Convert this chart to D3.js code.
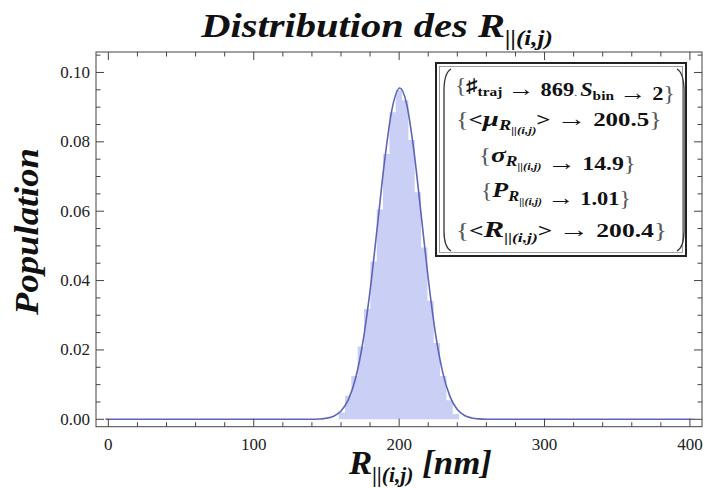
<!DOCTYPE html>
<html><head><meta charset="utf-8">
<script src="https://cdn.jsdelivr.net/npm/d3@7"></script>
<style>html,body{margin:0;padding:0;background:#fff;} svg{display:block;}</style>
</head><body>
<svg id="c" width="704" height="488"></svg>
<script>
// ---- data ----
const binEdges = [158.4, 162.76, 167.12, 171.48, 175.84, 180.2, 184.56, 188.92, 193.28, 197.64, 202.0,
                  206.36, 210.72, 215.08, 219.44, 223.8, 228.16, 232.52, 236.88, 241.24];
const binHeight = [0.0020, 0.0068, 0.0125, 0.0210, 0.0318, 0.0455, 0.0605, 0.0765, 0.0885, 0.0950,
                   0.0920, 0.0805, 0.0655, 0.0495, 0.0342, 0.0220, 0.0125, 0.0055, 0.0015];
const curveX = [-2, 100, 130, 140, 145, 150, 155, 160, 165, 170, 175, 180, 185, 190, 195, 200.5,
                205, 210, 215, 220, 225, 230, 235, 240, 245, 250, 255, 260, 270, 403];
const curveY = [0, 0, 0, 0.000025, 0.000093, 0.000306, 0.000902, 0.00238, 0.00559, 0.01176, 0.02208,
                0.03706, 0.05559, 0.0745, 0.0892, 0.0955, 0.0912, 0.0779, 0.0595, 0.0406, 0.0247,
                0.01345, 0.00654, 0.00284, 0.00110, 0.000383, 0.000119, 0.000033, 0, 0];
const xMajorTicks = [0, 100, 200, 300, 400];
const xTickLabels = ["0", "100", "200", "300", "400"];
const xMinorStep = 20;
const yMajorTicks = [0, 0.02, 0.04, 0.06, 0.08, 0.10];
const yTickLabels = ["0.00", "0.02", "0.04", "0.06", "0.08", "0.10"];
const yMinorStep = 0.005;
const titleText = "Distribution des ";
const axisSymbol = "R";
const axisSub = "||(i,j)";
const xUnit = " [nm]";
const yLabel = "Population";
const legendValues = ["869", "2", "200.5", "14.9", "1.01", "200.4"];

// ---- layout ----
const svg = d3.select("#c");
const FONT = "'Liberation Serif','Times New Roman',serif";
const L = 96, R = 702, T = 52, B = 426.7;
const x = d3.scaleLinear().domain([-8.5, 408.3]).range([L, R]);
const y = d3.scaleLinear().domain([-0.00213, 0.1059]).range([B, T]);
const barColor = "#c9cff5", lineColor = "#5f64b8";

// histogram (step area built from the bins)
const stepPts = binHeight.map((h, i) => [binEdges[i], h]);
stepPts.push([binEdges[binEdges.length - 1], binHeight[binHeight.length - 1]]);
svg.append("path").datum(stepPts)
  .attr("d", d3.area().x(d => x(d[0])).y0(y(0)).y1(d => y(d[1])).curve(d3.curveStepAfter))
  .attr("fill", barColor);

// fitted curve
const pts = curveX.map((v, i) => [v, curveY[i]]);
svg.append("path").datum(pts)
  .attr("d", d3.line().x(d => x(d[0])).y(d => y(d[1])).curve(d3.curveMonotoneX))
  .attr("fill", "none").attr("stroke", lineColor).attr("stroke-width", 1.6);

// frame
svg.append("rect").attr("x", L).attr("y", T).attr("width", R - L).attr("height", B - T)
  .attr("fill", "none").attr("stroke", "#444").attr("stroke-width", 1);

// ticks
const tk = svg.append("g").attr("stroke", "#444").attr("stroke-width", 1);
d3.range(0, 400.1, xMinorStep).forEach(v => {
  const len = xMajorTicks.includes(v) ? 8 : 4.5;
  const px = x(v);
  tk.append("line").attr("x1", px).attr("x2", px).attr("y1", B).attr("y2", B - len);
  tk.append("line").attr("x1", px).attr("x2", px).attr("y1", T).attr("y2", T + len);
});
d3.range(0, 0.1051, yMinorStep).forEach((v, i) => {
  const len = (i % 4 === 0) ? 8 : 4.5;
  const py = y(v);
  tk.append("line").attr("x1", L).attr("x2", L + len).attr("y1", py).attr("y2", py);
  tk.append("line").attr("x1", R).attr("x2", R - len).attr("y1", py).attr("y2", py);
});

// tick labels
svg.append("g").selectAll("text").data(xMajorTicks).join("text")
  .attr("x", d => x(d)).attr("y", 450).attr("text-anchor", "middle")
  .attr("font-family", FONT).attr("font-size", 17).attr("fill", "#222")
  .text((d, i) => xTickLabels[i]);
svg.append("g").selectAll("text").data(yMajorTicks).join("text")
  .attr("x", 90).attr("y", d => y(d) + 5.5).attr("text-anchor", "end")
  .attr("font-family", FONT).attr("font-size", 17).attr("fill", "#222")
  .text((d, i) => yTickLabels[i]);

// rich text helper
function rich(sel, px, py, segs) {
  const t = sel.append("text").attr("x", px).attr("y", py)
    .attr("font-family", FONT).attr("fill", "#111");
  let prev = 0;
  segs.forEach(s => {
    const ts = t.append("tspan").text(s.t).attr("font-size", s.fs)
      .attr("font-weight", s.fw || "bold").attr("font-style", s.it ? "italic" : "normal");
    const sh = s.sh || 0;
    if (sh !== prev) ts.attr("dy", sh - prev);
    prev = sh;
    if (s.fill) ts.attr("fill", s.fill);
  });
  return t;
}
// stretch a text horizontally so that it spans [x0, x1]
function fitX(t, x0, x1) {
  const bb = t.node().getBBox();
  const s = (x1 - x0) / bb.width;
  t.attr("transform", `translate(${x0},0) scale(${s},1) translate(${-bb.x},0)`);
}

// title
fitX(rich(svg, 0, 37, [
  {t: titleText, fs: 34, it: true},
  {t: axisSymbol, fs: 34, it: true},
  {t: axisSub, fs: 21, it: true, sh: 8}
]), 200, 553);
// x label
fitX(rich(svg, 0, 474, [
  {t: axisSymbol, fs: 34, it: true},
  {t: axisSub, fs: 21, it: true, sh: 8},
  {t: xUnit, fs: 34, it: true, sh: 0}
]), 348, 492);
// y label
const yg = svg.append("g").attr("transform", "translate(38,232) rotate(-90)");
const yt = yg.append("text").attr("x", 0).attr("y", 0).attr("text-anchor", "middle")
  .attr("font-family", FONT).attr("font-size", 34)
  .attr("font-weight", "bold").attr("font-style", "italic").attr("fill", "#111").text(yLabel);
fitX(yt, -84, 84);

// legend box
const lg = svg.append("g");
lg.append("rect").attr("x", 436).attr("y", 63).attr("width", 250).attr("height", 193)
  .attr("fill", "#fff").attr("stroke", "#222").attr("stroke-width", 2);
lg.append("rect").attr("x", 439.5).attr("y", 66.5).attr("width", 243).attr("height", 186)
  .attr("fill", "none").attr("stroke", "#888").attr("stroke-width", 0.8);
lg.append("path").attr("d", "M451,69 Q444,73 444,91 L444,231 Q444,247 451,251")
  .attr("fill", "none").attr("stroke", "#333").attr("stroke-width", 1.3);
lg.append("path").attr("d", "M677,69 Q684,73 684,91 L684,231 Q684,247 677,251")
  .attr("fill", "none").attr("stroke", "#333").attr("stroke-width", 1.3);

const LB = {t: "{", fs: 20, fw: "normal", fill: "#555"};
const RB = {t: "}", fs: 20, fw: "normal", fill: "#555"};
const arrow = v => [{t: " ", fs: 19}, {t: "\u2192", fs: 23}, {t: " " + v, fs: 19}];
fitX(rich(lg, 0, 92, [LB,
  {t: "\u266F", fs: 19}, {t: "traj", fs: 13, sh: 4}, {t: "", fs: 19, sh: 0}, ...arrow(legendValues[0]),
  {t: ". ", fs: 10, fw: "normal"}, {t: "S", fs: 19, it: true}, {t: "bin", fs: 13, sh: 4},
  {t: "", fs: 19, sh: 0}, ...arrow(legendValues[1]), RB]), 455, 675);
fitX(rich(lg, 0, 126, [LB,
  {t: "<", fs: 19}, {t: "\u03BC", fs: 22, it: true}, {t: "R", fs: 14, it: true, sh: 4},
  {t: "||(i,j)", fs: 10, it: true, sh: 8}, {t: ">", fs: 19, sh: 0},
  ...arrow(legendValues[2]), RB]), 456, 662);
fitX(rich(lg, 0, 162, [LB,
  {t: "\u03C3", fs: 22, it: true}, {t: "R", fs: 14, it: true, sh: 4},
  {t: "||(i,j)", fs: 10, it: true, sh: 8}, {t: "", fs: 19, sh: 0},
  ...arrow(legendValues[3]), RB]), 479, 636);
fitX(rich(lg, 0, 197, [LB,
  {t: "P", fs: 22, it: true}, {t: "R", fs: 14, it: true, sh: 4},
  {t: "||(i,j)", fs: 10, it: true, sh: 8}, {t: "", fs: 19, sh: 0},
  ...arrow(legendValues[4]), RB]), 481, 631);
fitX(rich(lg, 0, 237, [LB,
  {t: "<", fs: 19}, {t: "R", fs: 23, it: true}, {t: "||(i,j)", fs: 13, it: true, sh: 5},
  {t: ">", fs: 19, sh: 0}, ...arrow(legendValues[5]), RB]), 456, 667);
</script>
</body></html>
